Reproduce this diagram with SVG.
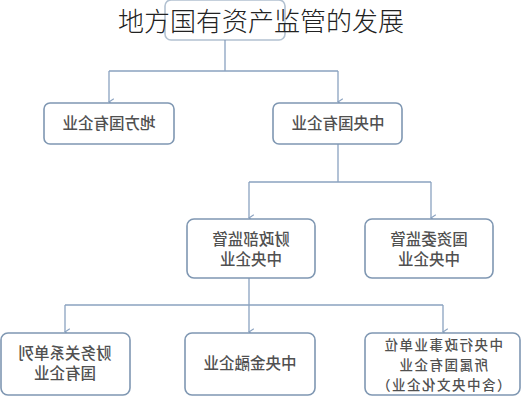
<svg xmlns="http://www.w3.org/2000/svg" width="521" height="400" viewBox="0 0 521 400">
<defs>
<style>
.box{fill:#ffffff;stroke:#7f97b2;stroke-width:1.6}
.ln{fill:none;stroke:#8aa2c0;stroke-width:1.3}
.t{font-family:"Noto Sans CJK SC","Noto Sans",sans-serif;font-size:15.5px;font-weight:500;fill:#505050;text-anchor:middle}
.s{font-size:13.5px;letter-spacing:1.5px}
.title{font-family:"Noto Sans CJK SC","Noto Sans",sans-serif;font-size:26px;font-weight:300;fill:#222;text-anchor:middle}
</style>
<marker id="ah" viewBox="0 0 10 10" refX="5" refY="9" markerWidth="8" markerHeight="8" markerUnits="userSpaceOnUse" orient="auto-start-reverse">
<path d="M1,3 L5,9 L9,3" fill="none" stroke="#8aa2c0" stroke-width="1.4"/>
</marker>
</defs>
<rect width="521" height="400" fill="#ffffff"/>
<g id="connectors">
<path class="ln" d="M225,40 V71 M109,71 H338"/>
<path class="ln" d="M109,71 V102" marker-end="url(#ah)"/>
<path class="ln" d="M338,71 V102" marker-end="url(#ah)"/>
<path class="ln" d="M338,144 V182 M249,182 H431"/>
<path class="ln" d="M249,182 V218" marker-end="url(#ah)"/>
<path class="ln" d="M431,182 V218" marker-end="url(#ah)"/>
<path class="ln" d="M249,278 V305 M65,305 H443"/>
<path class="ln" d="M65,305 V332" marker-end="url(#ah)"/>
<path class="ln" d="M249,305 V332" marker-end="url(#ah)"/>
<path class="ln" d="M443,305 V332" marker-end="url(#ah)"/>
</g>
<g id="top">
<rect class="box" x="165" y="0" width="120" height="40" rx="6" stroke-opacity="0.6"/>
</g>
<g id="title">
<text class="title" x="261" y="31">地方国有资产监管的发展</text>
</g>
<g id="local">
<rect class="box" x="44" y="103" width="130" height="41" rx="6"/>
<text class="t" transform="scale(-1,1)" x="-109" y="129">地方国有企业</text>
</g>
<g id="central">
<rect class="box" x="273" y="103" width="129" height="41" rx="6"/>
<text class="t" transform="scale(-1,1)" x="-338" y="129">中央国有企业</text>
</g>
<g id="mof">
<rect class="box" x="187" y="219" width="128" height="59" rx="7"/>
<text class="t" transform="scale(-1,1)" x="-251" y="245">财政部监管</text>
<text class="t" transform="scale(-1,1)" x="-251" y="265">中央企业</text>
</g>
<g id="sasac">
<rect class="box" x="365" y="219" width="128" height="59" rx="7"/>
<text class="t" transform="scale(-1,1)" x="-429" y="245">国资委监管</text>
<text class="t" transform="scale(-1,1)" x="-429" y="265">中央企业</text>
</g>
<g id="fin-list">
<rect class="box" x="1" y="333" width="129" height="62" rx="7"/>
<text class="t" transform="scale(-1,1)" x="-65" y="359">财务关系单列</text>
<text class="t" transform="scale(-1,1)" x="-65" y="379">国有企业</text>
</g>
<g id="financial">
<rect class="box" x="185" y="333" width="130" height="62" rx="7"/>
<text class="t" transform="scale(-1,1)" x="-250" y="369">中央金融企业</text>
</g>
<g id="admin">
<rect class="box" x="365" y="333" width="155" height="62" rx="7"/>
<text class="t s" transform="scale(-1,1)" x="-443" y="350">中央行政事业单位</text>
<text class="t s" transform="scale(-1,1)" x="-443" y="370">所属国有企业</text>
<text class="t s" transform="scale(-1,1)" x="-443" y="390">（含中央文化企业）</text>
</g>
</svg>
